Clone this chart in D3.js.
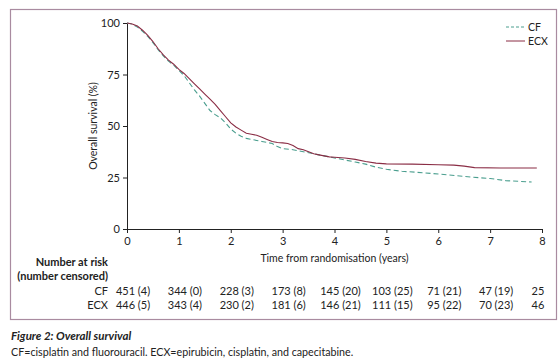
<!DOCTYPE html>
<html>
<head>
<meta charset="utf-8">
<script src="https://cdn.jsdelivr.net/npm/d3@7"></script>
<style>
  body { margin: 0; background: #fff; }
  svg text { font-family: Lato, "Open Sans", sans-serif; fill: #222; }
</style>
</head>
<body>
<svg id="chart" width="560" height="363"></svg>
<script>
// survival estimates, [years, %]
var ecx = [[0,100],[0.1,99.5],[0.2,98.5],[0.3,96.5],[0.4,94],[0.5,91],[0.6,87.5],[0.7,84.5],[0.8,82],[0.9,80],
  [1.0,77.5],[1.1,75.5],[1.2,73],[1.3,70.5],[1.4,68],[1.5,65.5],[1.6,63],[1.7,60.5],[1.8,57.5],[1.9,54.5],
  [2.0,51.5],[2.1,49.5],[2.2,48],[2.3,46.5],[2.4,46],[2.5,45.5],[2.6,44.5],[2.7,43.5],[2.8,42.5],[2.9,42],
  [3.0,41.8],[3.1,41.5],[3.2,40.5],[3.3,39],[3.4,38.5],[3.5,37.5],[3.6,36.5],[3.7,36],[3.8,35.5],[3.9,35],
  [4.0,34.8],[4.2,34.5],[4.4,33.8],[4.6,32.8],[4.8,32],[5.0,31.6],[5.5,31.5],[6.0,31.2],[6.3,31],[6.5,30.5],
  [6.7,29.8],[7.2,29.6],[7.9,29.6]];
var cf = [[0,100],[0.1,99.5],[0.2,98],[0.3,96],[0.4,93.5],[0.5,90.5],[0.6,87],[0.7,84],[0.8,81.5],[0.9,79.5],
  [1.0,77],[1.1,74.5],[1.2,71],[1.3,67.5],[1.4,64.5],[1.5,61],[1.6,57.5],[1.7,55.5],[1.8,54],[1.9,51.5],
  [2.0,48.5],[2.1,46.5],[2.2,45],[2.3,44],[2.4,43.5],[2.5,43],[2.6,42.5],[2.7,42],[2.8,41.5],[2.9,40],
  [3.0,39],[3.2,38.5],[3.4,37.5],[3.6,36.5],[3.8,35.5],[4.0,34.5],[4.2,33.5],[4.4,32.5],[4.6,31.5],[4.8,30],
  [5.0,29],[5.3,28],[5.6,27.5],[6.0,26.7],[6.5,25.5],[7.0,24.5],[7.3,23.5],[7.8,22.8]];

var xTicks = [0, 1, 2, 3, 4, 5, 6, 7, 8];
var yTicks = [0, 25, 50, 75, 100];
var riskCF  = ['451 (4)', '344 (0)', '228 (3)', '173 (8)', '145 (20)', '103 (25)', '71 (21)', '47 (19)', '25'];
var riskECX = ['446 (5)', '343 (4)', '230 (2)', '181 (6)', '146 (21)', '111 (15)', '95 (22)', '70 (23)', '46'];

var cfColor = '#4a9e8e',
    ecxColor = '#8a2d45';

var svg = d3.select('#chart');

// outer frame
svg.append('rect')
    .attr('x', 10.5).attr('y', 9.5)
    .attr('width', 546).attr('height', 310)
    .attr('fill', 'none')
    .attr('stroke', '#a98ba0')
    .attr('stroke-width', 1.2);

var x = d3.scaleLinear().domain([0, 8]).range([127, 542]);
var y = d3.scaleLinear().domain([0, 100]).range([229, 23]);

var xAxis = svg.append('g')
    .attr('transform', 'translate(0,229)')
    .call(d3.axisBottom(x).tickValues(xTicks).tickSize(4).tickSizeOuter(0));
var yAxis = svg.append('g')
    .attr('transform', 'translate(127,0)')
    .call(d3.axisLeft(y).tickValues(yTicks).tickSize(4).tickSizeOuter(0));

[xAxis, yAxis].forEach(function(a){
    a.select('.domain').attr('stroke', '#222');
    a.selectAll('.tick line').attr('stroke', '#222');
    a.selectAll('.tick text').style('font-size', '11px');
});
xAxis.selectAll('.tick text').attr('dy', '0.85em');

svg.append('text')
    .attr('x', x(4)).attr('y', 262)
    .attr('text-anchor', 'middle')
    .style('font-size', '10.5px')
    .text('Time from randomisation (years)');

svg.append('text')
    .attr('transform', 'translate(97,' + y(50) + ') rotate(-90)')
    .attr('text-anchor', 'middle')
    .style('font-size', '10.5px')
    .text('Overall survival (%)');

var line = d3.line()
    .x(function(d){ return x(d[0]); })
    .y(function(d){ return y(d[1]); });

svg.append('path')
    .datum(cf)
    .attr('d', line)
    .attr('fill', 'none')
    .attr('stroke', cfColor)
    .attr('stroke-width', 1.1)
    .attr('stroke-dasharray', '5,3');

svg.append('path')
    .datum(ecx)
    .attr('d', line)
    .attr('fill', 'none')
    .attr('stroke', ecxColor)
    .attr('stroke-width', 1.1);

// legend
var legend = svg.append('g');
[{name: 'CF', color: cfColor, dash: '3,2', y: 27}, {name: 'ECX', color: ecxColor, dash: null, y: 41}]
    .forEach(function(s){
        legend.append('line')
            .attr('x1', 506).attr('x2', 525)
            .attr('y1', s.y).attr('y2', s.y)
            .attr('stroke', s.color)
            .attr('stroke-width', 1)
            .attr('stroke-dasharray', s.dash);
        legend.append('text')
            .attr('x', 528).attr('y', s.y).attr('dy', '0.35em')
            .style('font-size', '10.5px')
            .text(s.name);
    });

// number at risk table
svg.append('text').attr('x', 108).attr('y', 266).attr('text-anchor', 'end')
    .style('font-size', '11px').style('font-weight', 'bold').text('Number at risk');
svg.append('text').attr('x', 108).attr('y', 280).attr('text-anchor', 'end')
    .style('font-size', '11px').style('font-weight', 'bold').text('(number censored)');

[{name: 'CF', vals: riskCF, y: 295}, {name: 'ECX', vals: riskECX, y: 309}].forEach(function(r){
    svg.append('text').attr('x', 108).attr('y', r.y).attr('text-anchor', 'end')
        .style('font-size', '11px').text(r.name);
    svg.selectAll(null)
        .data(r.vals)
        .enter().append('text')
        .attr('x', function(d, i){ return i === 8 ? x(xTicks[i]) - 4 : x(xTicks[i]) + 6; })
        .attr('y', r.y)
        .attr('text-anchor', 'middle')
        .style('font-size', '11px')
        .text(function(d){ return d; });
});

// caption
svg.append('text').attr('x', 11).attr('y', 340)
    .style('font-size', '11.5px').style('font-weight', 'bold').style('font-style', 'italic')
    .text('Figure 2: Overall survival');
svg.append('text').attr('x', 11).attr('y', 356)
    .style('font-size', '10.7px')
    .text('CF=cisplatin and fluorouracil. ECX=epirubicin, cisplatin, and capecitabine.');
</script>
</body>
</html>
